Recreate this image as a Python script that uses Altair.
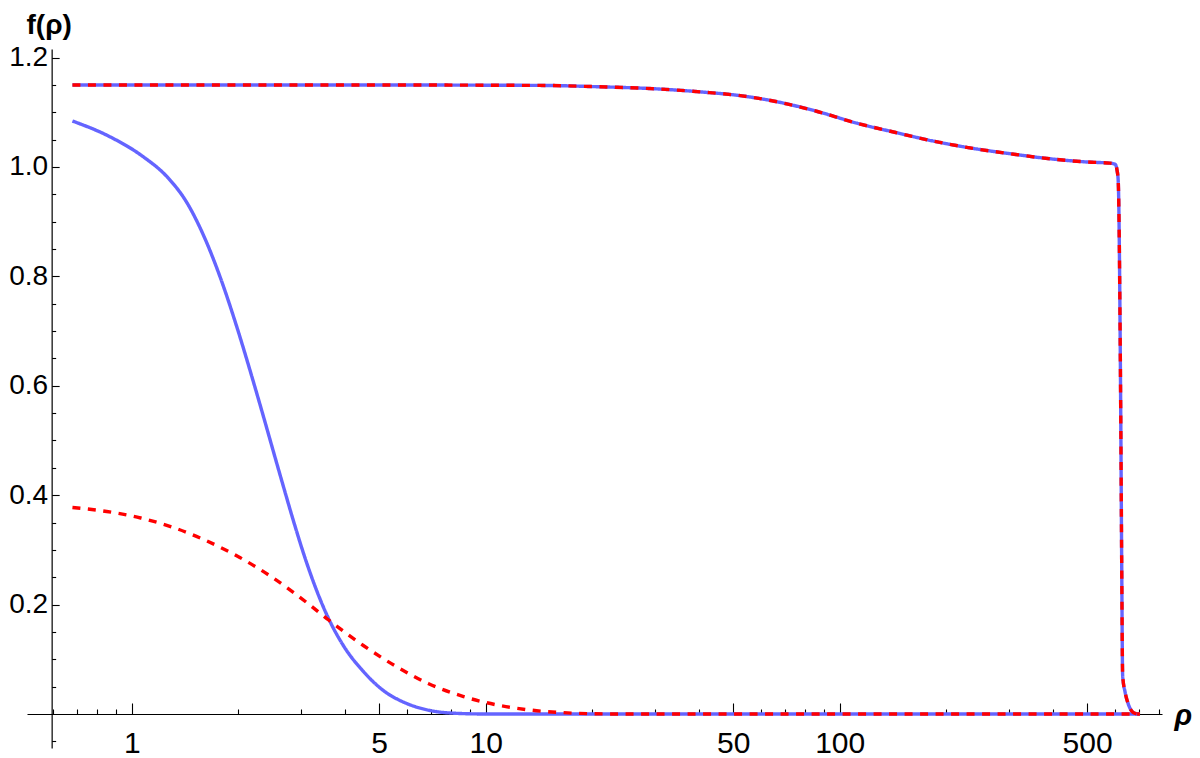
import math
import altair as alt
import pandas as pd

# ---------------- data ----------------
# upper curve: both solutions coincide (blue solid + red dashed)
rho_upper = [0.68, 1, 2, 5, 10, 15, 20, 30, 41, 53, 68, 87, 112, 144, 185, 238,
             305, 393, 503, 580, 600, 607, 612, 622, 626, 630, 640, 652, 674, 690, 705]
f_upper = [1.150, 1.150, 1.150, 1.150, 1.1495, 1.149, 1.147, 1.143, 1.137, 1.130,
           1.118, 1.101, 1.080, 1.063, 1.047, 1.034, 1.024, 1.015, 1.009, 1.007,
           1.005, 0.995, 0.975, 0.56, 0.28, 0.07, 0.04, 0.02, 0.003, 0.0005, 0.0]

# lower blue solid curve
rho_blue = [0.68, 0.87, 1.08, 1.26, 1.43, 1.59, 1.779, 1.98, 2.18, 2.351, 2.51, 2.681,
            2.861, 3.121, 3.559, 3.96, 4.511, 5.137, 5.981, 6.962, 8.19, 9.95, 20, 100, 705]
f_blue = [1.0841, 1.0549, 1.0183, 0.9817, 0.9353, 0.8771, 0.7980, 0.7081, 0.6188,
          0.5457, 0.4810, 0.4163, 0.3537, 0.2761, 0.1810, 0.1252, 0.0777, 0.0430,
          0.0192, 0.0064, 0.0013, 0.0, 0.0, 0.0, 0.0]

# lower red dashed curve
rho_red = [0.68, 0.85, 1.06, 1.31, 1.63, 2.02, 2.51, 3.12, 3.6, 4.51, 5.6, 6.9, 8.66,
           10.8, 13.4, 16.6, 20, 25, 100, 705]
f_red = [0.3775, 0.3702, 0.3583, 0.3410, 0.3163, 0.2861, 0.2486, 0.2038, 0.1718,
         0.1252, 0.0865, 0.0554, 0.0318, 0.0163, 0.0071, 0.0024, 0.0004, 0.0, 0.0, 0.0]

x_ticks_major = [1, 5, 10, 50, 100, 500]
x_ticks_minor = [0.6, 0.7, 0.8, 0.9, 2, 3, 4, 6, 7, 8, 9, 20, 30, 40, 60, 70, 80, 90,
                 200, 300, 400, 600, 700, 800]
y_ticks_major = [0.2, 0.4, 0.6, 0.8, 1.0, 1.2]
y_ticks_minor = [-0.05, 0.05, 0.1, 0.15, 0.25, 0.3, 0.35, 0.45, 0.5, 0.55, 0.65, 0.7,
                 0.75, 0.85, 0.9, 0.95, 1.05, 1.1, 1.15]

x_domain = [0.506, 813.7]
y_domain = [-0.0622, 1.2157]
x_cross = 0.594   # where the vertical axis crosses
y_cross = 0.0     # where the horizontal axis crosses

# ---------------- layout ----------------
W, H = 1135, 699
FONT = "Liberation Sans"

lx0, lx1 = math.log10(x_domain[0]), math.log10(x_domain[1])
xc_px = W * (math.log10(x_cross) - lx0) / (lx1 - lx0)
yc_px = H * (y_domain[1] - y_cross) / (y_domain[1] - y_domain[0])

rows = []
for name, kind, xs_, ys_ in [("a_blue_low", "blue", rho_blue, f_blue),
                             ("b_blue_up", "blue", rho_upper, f_upper),
                             ("c_red_low", "red", rho_red, f_red),
                             ("d_red_up", "red", rho_upper, f_upper)]:
    for r, f in zip(xs_, ys_):
        rows.append({"rho": r, "f": f, "series": name, "kind": kind})
df = pd.DataFrame(rows)


def xscale():
    return alt.Scale(type="log", domain=x_domain, nice=False)


def yscale():
    return alt.Scale(domain=y_domain, nice=False, zero=False)


x_label_axis = alt.Axis(
    orient="bottom", offset=-(H - yc_px), values=x_ticks_major, format="d",
    ticks=False, tickSize=0, labelPadding=15, labelFont=FONT, labelFontSize=30,
    labelColor="black", labelFlush=False, labelOverlap=False, labelBound=False,
    domain=True, domainColor="black", domainWidth=1.2, grid=False,
    title="ρ", titleFont=FONT, titleFontSize=29, titleFontWeight="bold",
    titleFontStyle="italic", titleColor="black", titleX=1147, titleY=11,
    titleAlign="left", titleBaseline="alphabetic", titleAngle=0,
)
y_label_axis = alt.Axis(
    orient="left", offset=-xc_px, values=y_ticks_major, format=".1f",
    ticks=False, tickSize=0, labelPadding=4, labelFont=FONT, labelFontSize=28,
    labelColor="black", labelFlush=False, labelOverlap=False, labelBound=False,
    domain=True, domainColor="black", domainWidth=1.2, grid=False,
    title="f(ρ)", titleFont=FONT, titleFontSize=28, titleFontWeight="bold",
    titleColor="black", titleX=-3, titleY=-24, titleAlign="center",
    titleBaseline="middle", titleAngle=0,
)

lines = alt.Chart(df).mark_line(strokeCap="butt", interpolate="monotone", strokeWidth=3.4).encode(
    x=alt.X("rho:Q", scale=xscale(), axis=x_label_axis),
    y=alt.Y("f:Q", scale=yscale(), axis=y_label_axis),
    color=alt.Color("kind:N", scale=alt.Scale(domain=["blue", "red"], range=["#6464ff", "#ff0000"]), legend=None),
    strokeDash=alt.StrokeDash("kind:N", scale=alt.Scale(domain=["blue", "red"], range=[[1, 0], [8, 7.5]]), legend=None),
    detail="series:N",
)

dummy = pd.DataFrame({"rho": [1.0], "f": [0.5]})


def tick_layer(xvals, yvals, xsize, ysize):
    return alt.Chart(dummy).mark_point(opacity=0).encode(
        x=alt.X("rho:Q", scale=xscale(), axis=alt.Axis(
            orient="top", offset=-yc_px, values=xvals, labels=False, domain=False,
            grid=False, ticks=True, tickSize=xsize, tickWidth=1.1, tickColor="black",
            title=None)),
        y=alt.Y("f:Q", scale=yscale(), axis=alt.Axis(
            orient="right", offset=-(W - xc_px), values=yvals, labels=False, domain=False,
            grid=False, ticks=True, tickSize=ysize, tickWidth=1.1, tickColor="black",
            title=None)),
    )


chart = alt.layer(
    tick_layer(x_ticks_major, y_ticks_major, 11, 7.5),
    tick_layer(x_ticks_minor, y_ticks_minor, 5, 4),
    lines,
).resolve_scale(x="independent", y="independent").properties(
    width=W, height=H,
    autosize=alt.AutoSizeParams(type="none"),
    padding={"left": 19, "top": 41, "right": 30, "bottom": 15},
    background="white",
).configure_view(stroke=None)

chart.save("out.html", embed_options={"renderer": "svg", "actions": False})
